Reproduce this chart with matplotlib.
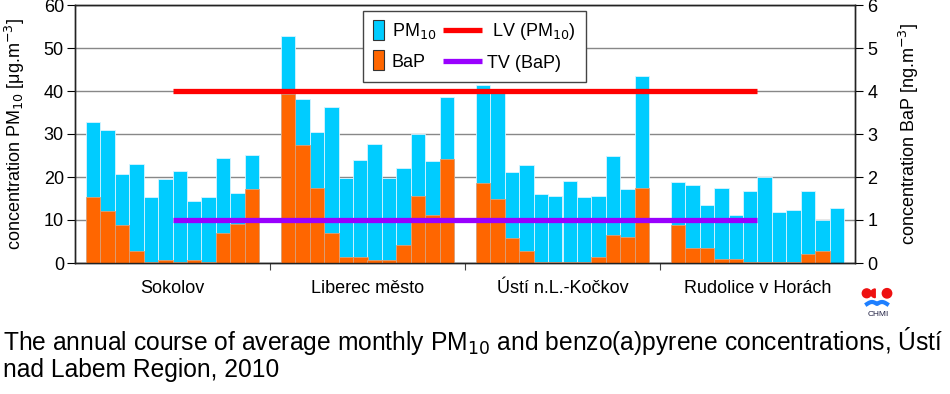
import numpy as np
import matplotlib.pyplot as plt
from matplotlib.patches import Rectangle, Circle, Wedge
from matplotlib.legend_handler import HandlerPatch, HandlerBase
from matplotlib.lines import Line2D

# monthly averages 2010, Jan..Dec
stations = ['Sokolov', 'Liberec město', 'Ústí n.L.-Kočkov', 'Rudolice v Horách']

pm10_sokolov = [32.8, 31.0, 20.8, 23.0, 15.3, 19.6, 21.5, 14.5, 15.3, 24.4, 16.3, 25.2]
pm10_liberec = [52.7, 38.1, 30.4, 36.2, 19.7, 24.0, 27.7, 19.7, 22.2, 30.0, 23.7, 38.7]
pm10_usti = [41.3, 40.5, 21.1, 22.7, 16.1, 15.6, 19.0, 15.3, 15.6, 24.9, 17.1, 43.4]
pm10_rudolice = [18.9, 18.2, 13.4, 17.4, 11.2, 16.7, 20.0, 11.9, 12.3, 16.7, 10.1, 12.7]

bap_sokolov = [1.53, 1.20, 0.88, 0.29, 0.03, 0.06, 0.03, 0.06, 0.02, 0.69, 0.91, 1.71]
bap_liberec = [3.93, 2.74, 1.75, 0.69, 0.13, 0.13, 0.08, 0.06, 0.43, 1.56, 1.12, 2.41]
bap_usti = [1.87, 1.49, 0.57, 0.29, 0.03, 0.03, 0.03, 0.03, 0.13, 0.65, 0.61, 1.75]
bap_rudolice = [0.88, 0.36, 0.36, 0.10, 0.10, 0.03, 0.03, 0.03, 0.03, 0.21, 0.29, 0.0]

lv_pm10 = 40
tv_bap = 1

pm10 = [pm10_sokolov, pm10_liberec, pm10_usti, pm10_rudolice]
bap = [bap_sokolov, bap_liberec, bap_usti, bap_rudolice]

plt.rcParams['font.family'] = ['Liberation Sans', 'DejaVu Sans']

CYAN = '#00CCFF'
ORANGE = '#FF6600'
RED = '#FF0000'
PURPLE = '#9900FF'


class NarrowPatch(HandlerPatch):
    # tall narrow rectangle like the Excel legend keys
    def create_artists(self, legend, orig_handle, xdescent, ydescent,
                       width, height, fontsize, trans):
        r = Rectangle((-xdescent, -ydescent + height / 2 - 7.2), 8, 14.4,
                      facecolor=orig_handle.get_facecolor(),
                      edgecolor='#333333', linewidth=0.8, transform=trans)
        return [r]


class LongLine(HandlerBase):
    # line key that reaches back into the column gap
    def create_artists(self, legend, orig_handle, xdescent, ydescent,
                       width, height, fontsize, trans):
        y = -ydescent + height / 2
        ln = Line2D([-xdescent - 18, -xdescent + width], [y, y],
                    color=orig_handle.get_color(), lw=orig_handle.get_linewidth(),
                    solid_capstyle='butt', transform=trans)
        return [ln]


fig = plt.figure(figsize=(9.5, 3.94), dpi=100)
ax = fig.add_axes([75 / 950, 131 / 394, 780 / 950, 258 / 394])
ax2 = ax.twinx()

n_months = 12
gap = 1.5
margin = 0.75
span = n_months + gap

centers = []
for g in range(len(stations)):
    x = margin + g * span + np.arange(n_months) + 0.5
    ax.bar(x, pm10[g], width=1.0, color=CYAN, edgecolor='#d8f4ff', linewidth=0.6, zorder=2)
    ax2.bar(x, bap[g], width=1.0, color=ORANGE, edgecolor='#d9a07a', linewidth=0.6, zorder=2)
    centers.append(margin + g * span + n_months / 2)

# limit / target value lines, from middle of first to middle of last station
x_start = centers[0]
x_end = centers[-1]
ax2.plot([x_start, x_end], [lv_pm10, lv_pm10], color=RED, lw=3.8,
         solid_capstyle='butt', transform=ax.transData, zorder=5)
ax2.plot([x_start, x_end], [tv_bap, tv_bap], color=PURPLE, lw=3.8,
         solid_capstyle='butt', zorder=5)

total = margin * 2 + len(stations) * n_months + (len(stations) - 1) * gap
ax.set_xlim(0, total)
ax.set_ylim(0, 60)
ax2.set_ylim(0, 6)
ax.set_yticks(np.arange(0, 61, 10))
ax2.set_yticks(np.arange(0, 7, 1))

ax.yaxis.grid(True, color='#888888', lw=1.0)
ax.set_axisbelow(True)

bounds = [margin + n_months + gap / 2 + g * span for g in range(len(stations) - 1)]
ax.set_xticks(bounds)
ax.set_xticklabels([])
ax.set_xticks(centers, minor=True)
ax.set_xticklabels(stations, minor=True, fontsize=13)
ax.tick_params(axis='x', which='major', direction='out', length=5, color='#444444')
ax.tick_params(axis='x', which='minor', length=0, pad=12)
ax.tick_params(axis='y', labelsize=13, length=6, pad=2)
ax2.tick_params(axis='y', labelsize=13, length=6, pad=3)

for a in (ax, ax2):
    for s in a.spines.values():
        s.set_color('#222222')
        s.set_linewidth(1.0)

ax.set_ylabel('concentration PM$_{10}$ [μg.m$^{-3}$]', fontsize=13, labelpad=12)
ax2.set_ylabel('concentration BaP [ng.m$^{-3}$]', fontsize=13, labelpad=14)

handles = [Rectangle((0, 0), 1, 1, facecolor=CYAN),
           Rectangle((0, 0), 1, 1, facecolor=ORANGE),
           Line2D([], [], color=RED, lw=3.8),
           Line2D([], [], color=PURPLE, lw=3.8)]
labels = ['PM$_{10}$', 'BaP', ' LV (PM$_{10}$)', 'TV (BaP)']
leg = ax2.legend(handles, labels, ncol=2, loc='upper left',
                 bbox_to_anchor=(363 / 950, 1 - 11 / 394), bbox_transform=fig.transFigure,
                 borderaxespad=0, fontsize=13, frameon=True, fancybox=False,
                 edgecolor='#444444', framealpha=1, handlelength=0.75, handleheight=0.7,
                 handletextpad=0.3, columnspacing=1.76, labelspacing=0.7, borderpad=0.55,
                 handler_map={Rectangle: NarrowPatch(), Line2D: LongLine()})
leg.get_frame().set_linewidth(1.0)
leg.set_zorder(10)

# caption
fig.text(3 / 950, 1 - 350 / 394,
         'The annual course of average monthly PM$_{10}$ and benzo(a)pyrene concentrations, Ústí',
         fontsize=17.75, ha='left', va='baseline')
fig.text(3 / 950, 1 - 377 / 394, 'nad Labem Region, 2010',
         fontsize=17.75, ha='left', va='baseline')

# CHMI logo
lax = fig.add_axes([858 / 950, 1 - 322 / 394, 38 / 950, 40 / 394])
lax.set_xlim(0, 38)
lax.set_ylim(40, 0)
lax.set_aspect('equal')
lax.axis('off')
lax.add_patch(Circle((8.7, 11.3), 4.4, color='#EE1111'))
lax.add_patch(Wedge((17.2, 11.3), 4.3, 90, 270, color='#EE1111'))
lax.add_patch(Circle((29.0, 11.3), 4.7, color='#EE1111'))
wx = np.linspace(9, 29, 60)
wy = 22 - 2.0 * np.abs(np.sin((wx - 9) / 20 * 2 * np.pi))
lax.plot(wx, wy, color='#1E7FFF', lw=3.0)
lax.text(20.5, 33, 'CHMI', fontsize=6, ha='center', va='center', color='#222244')

fig.savefig('out.png', dpi=100)
